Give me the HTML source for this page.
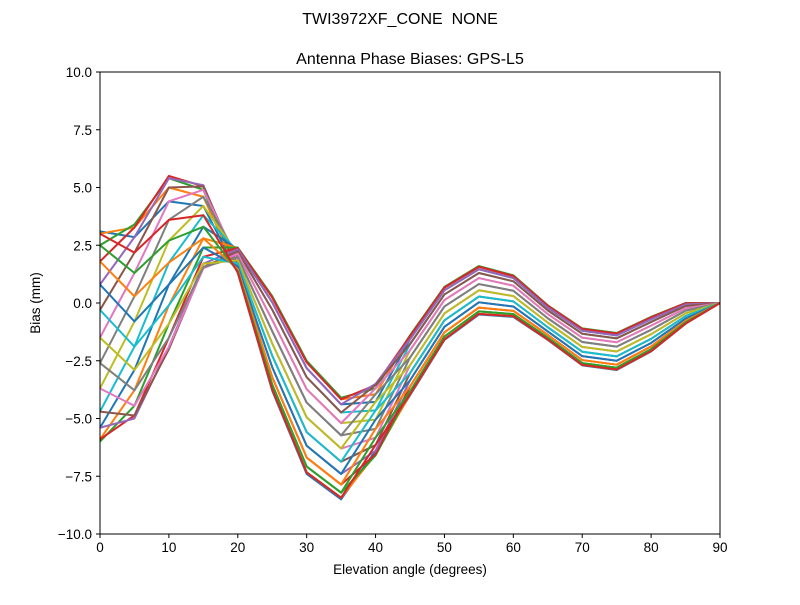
<!DOCTYPE html>
<html><head><meta charset="utf-8"><style>
body{margin:0;background:#fff;}
svg text{font-family:"Liberation Sans","DejaVu Sans",sans-serif;fill:#000;}
</style></head><body>
<svg id="chart" width="800" height="600" xmlns="http://www.w3.org/2000/svg">
<rect width="800" height="600" fill="#fff"/>
<text x="400" y="24" font-size="16" text-anchor="middle" style="white-space:pre" xml:space="preserve">TWI3972XF_CONE  NONE</text>
<text x="410" y="64" font-size="16" text-anchor="middle">Antenna Phase Biases: GPS-L5</text>
<text x="410" y="574" font-size="13.5" text-anchor="middle">Elevation angle (degrees)</text>
<text x="40" y="303" font-size="13.5" text-anchor="middle" transform="rotate(-90 40 303)">Bias (mm)</text>
<g id="lines"></g>
<g id="axes"></g>
</svg>
<script>
const elevations=[0,5,10,15,20,25,30,35,40,45,50,55,60,65,70,75,80,85,90];
const xTicks=[0,10,20,30,40,50,60,70,80,90];
const yTicks=[-10,-7.5,-5,-2.5,0,2.5,5,7.5,10];
const yTickLabels=["\u221210.0","\u22127.5","\u22125.0","\u22122.5","0.0","2.5","5.0","7.5","10.0"];
// values at each elevation across 24 azimuth series
const e0=[3.1,3.0,2.5,1.8,0.8,-0.3,-1.5,-2.6,-3.7,-4.7,-5.4,-5.9,-6.0,-5.9,-5.4,-4.7,-3.7,-2.6,-1.5,-0.3,0.8,1.8,2.5,3.0];
const e5=[2.85,3.27,3.4,3.27,2.85,2.18,1.3,0.29,-0.8,-1.89,-2.9,-3.78,-4.45,-4.87,-5.0,-4.87,-4.45,-3.78,-2.9,-1.89,-0.8,0.29,1.3,2.18];
const e10=[4.4,5.0,5.4,5.5,5.4,5.0,4.4,3.6,2.7,1.75,0.8,-0.1,-0.9,-1.5,-1.9,-2.0,-1.9,-1.5,-0.9,-0.1,0.8,1.75,2.7,3.6];
const e15=[4.2,4.6,4.9,5.05,5.1,5.05,4.9,4.6,4.2,3.8,3.3,2.8,2.4,2.0,1.7,1.55,1.5,1.55,1.7,2.0,2.4,2.8,3.3,3.8];
const e20=[1.3,1.32,1.37,1.46,1.58,1.71,1.85,1.99,2.13,2.24,2.33,2.38,2.4,2.38,2.33,2.24,2.13,1.99,1.85,1.71,1.58,1.46,1.37,1.32];
const e25=[-3.8,-3.74,-3.53,-3.21,-2.78,-2.28,-1.75,-1.22,-0.73,-0.29,0.03,0.24,0.3,0.24,0.03,-0.29,-0.73,-1.22,-1.75,-2.28,-2.78,-3.21,-3.53,-3.74];
const e30=[-7.4,-7.33,-7.08,-6.69,-6.18,-5.59,-4.95,-4.31,-3.73,-3.21,-2.82,-2.57,-2.5,-2.57,-2.82,-3.21,-3.73,-4.31,-4.95,-5.59,-6.18,-6.69,-7.08,-7.33];
const e35=[-8.5,-8.43,-8.21,-7.86,-7.4,-6.87,-6.3,-5.73,-5.2,-4.74,-4.39,-4.17,-4.1,-4.17,-4.39,-4.74,-5.2,-5.73,-6.3,-6.87,-7.4,-7.86,-8.21,-8.43];
const e40=[-6.4,-6.55,-6.6,-6.55,-6.4,-6.15,-5.83,-5.45,-5.05,-4.65,-4.28,-3.95,-3.7,-3.55,-3.5,-3.55,-3.7,-3.95,-4.28,-4.65,-5.05,-5.45,-5.83,-6.15];
const e45=[-4.0,-3.96,-3.83,-3.62,-3.35,-3.04,-2.7,-2.36,-2.05,-1.78,-1.57,-1.44,-1.4,-1.44,-1.57,-1.78,-2.05,-2.36,-2.7,-3.04,-3.35,-3.62,-3.83,-3.96];
const e50=[-1.6,-1.57,-1.45,-1.27,-1.03,-0.75,-0.45,-0.15,0.13,0.37,0.55,0.67,0.7,0.67,0.55,0.37,0.13,-0.15,-0.45,-0.75,-1.03,-1.27,-1.45,-1.57];
const e55=[-0.5,-0.47,-0.36,-0.2,0.03,0.28,0.55,0.82,1.08,1.3,1.46,1.57,1.6,1.57,1.46,1.3,1.08,0.82,0.55,0.28,0.03,-0.2,-0.36,-0.47];
const e60=[-0.6,-0.57,-0.48,-0.34,-0.15,0.07,0.3,0.53,0.75,0.94,1.08,1.17,1.2,1.17,1.08,0.94,0.75,0.53,0.3,0.07,-0.15,-0.34,-0.48,-0.57];
const e65=[-1.6,-1.58,-1.5,-1.38,-1.23,-1.05,-0.85,-0.66,-0.48,-0.32,-0.2,-0.12,-0.1,-0.12,-0.2,-0.32,-0.48,-0.66,-0.85,-1.05,-1.23,-1.38,-1.5,-1.58];
const e70=[-2.7,-2.68,-2.6,-2.47,-2.3,-2.11,-1.9,-1.69,-1.5,-1.33,-1.2,-1.12,-1.1,-1.12,-1.2,-1.33,-1.5,-1.69,-1.9,-2.11,-2.3,-2.47,-2.6,-2.68];
const e75=[-2.9,-2.88,-2.8,-2.67,-2.5,-2.31,-2.1,-1.89,-1.7,-1.53,-1.4,-1.32,-1.3,-1.32,-1.4,-1.53,-1.7,-1.89,-2.1,-2.31,-2.5,-2.67,-2.8,-2.88];
const e80=[-2.1,-2.08,-2.0,-1.88,-1.73,-1.55,-1.35,-1.16,-0.98,-0.82,-0.7,-0.62,-0.6,-0.62,-0.7,-0.82,-0.98,-1.16,-1.35,-1.55,-1.73,-1.88,-2.0,-2.08];
const e85=[-0.9,-0.89,-0.84,-0.77,-0.68,-0.57,-0.45,-0.33,-0.23,-0.13,-0.06,-0.01,0,-0.01,-0.06,-0.13,-0.23,-0.33,-0.45,-0.57,-0.68,-0.77,-0.84,-0.89];
const e90=[0,0,0,0,0,0,0,0,0,0,0,0,0,0,0,0,0,0,0,0,0,0,0,0];
const byElevation=[e0,e5,e10,e15,e20,e25,e30,e35,e40,e45,e50,e55,e60,e65,e70,e75,e80,e85,e90];

const colors=["#1f77b4","#ff7f0e","#2ca02c","#d62728","#9467bd","#8c564b","#e377c2","#7f7f7f","#bcbd22","#17becf"];
const L=100,R=720,T=72,B=534;
const xScale=v=>L+(v-0)/(90-0)*(R-L);
const yScale=v=>B-(v+10)/20*(B-T);
const NS="http://www.w3.org/2000/svg";
const lines=document.getElementById('lines');
const nSeries=e0.length;
for(let k=0;k<nSeries;k++){
  const pts=elevations.map((e,i)=>xScale(e).toFixed(2)+","+yScale(byElevation[i][k]).toFixed(2)).join(" ");
  const pl=document.createElementNS(NS,'polyline');
  pl.setAttribute('points',pts);
  pl.setAttribute('fill','none');
  pl.setAttribute('stroke',colors[k%10]);
  pl.setAttribute('stroke-width','2');
  pl.setAttribute('stroke-linejoin','round');
  
  
  lines.appendChild(pl);
}
const axes=document.getElementById('axes');
const frame=document.createElementNS(NS,'rect');
frame.setAttribute('x',L);frame.setAttribute('y',T);frame.setAttribute('width',R-L);frame.setAttribute('height',B-T);
frame.setAttribute('fill','none');frame.setAttribute('stroke','#000');frame.setAttribute('stroke-width','1');


axes.appendChild(frame);
xTicks.forEach(t=>{
  const x=xScale(t);
  const ln=document.createElementNS(NS,'line');
  ln.setAttribute('x1',x);ln.setAttribute('x2',x);ln.setAttribute('y1',B);ln.setAttribute('y2',B+4);ln.setAttribute('stroke','#000');
  
  
  axes.appendChild(ln);
  const tx=document.createElementNS(NS,'text');
  tx.setAttribute('x',x);tx.setAttribute('y',B+18);tx.setAttribute('font-size','13.5');tx.setAttribute('text-anchor','middle');
  tx.textContent=t;
  
  
  axes.appendChild(tx);
});
yTicks.forEach((t,i)=>{
  const y=yScale(t);
  const ln=document.createElementNS(NS,'line');
  ln.setAttribute('x1',L-4);ln.setAttribute('x2',L);ln.setAttribute('y1',y);ln.setAttribute('y2',y);ln.setAttribute('stroke','#000');
  
  
  axes.appendChild(ln);
  const tx=document.createElementNS(NS,'text');
  tx.setAttribute('x',L-8);tx.setAttribute('y',y+5);tx.setAttribute('font-size','13.5');tx.setAttribute('text-anchor','end');
  tx.textContent=yTickLabels[i];
  
  
  axes.appendChild(tx);
});
</script>
</body></html>
